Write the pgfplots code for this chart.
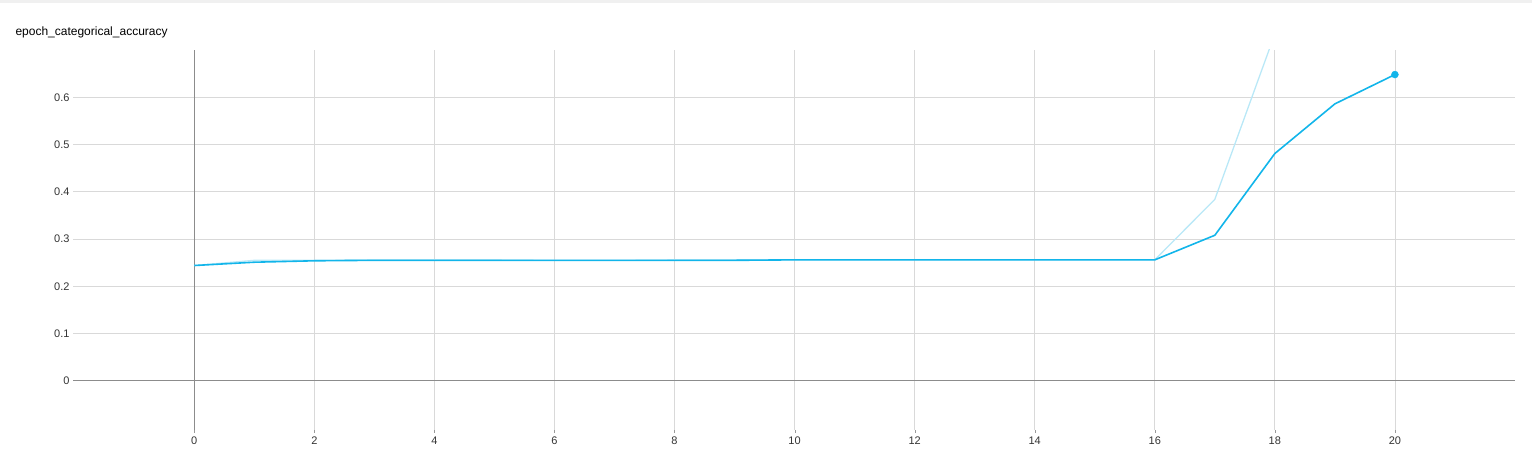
\documentclass[border=0pt]{standalone}
\usepackage{pgfplots}
\pgfplotsset{compat=1.18}
\usepackage{fontspec}
\setmainfont{Liberation Sans}
\begin{document}
\begin{tikzpicture}[x=1pt,y=1pt]
\path (0,0) rectangle (1532,457);
\fill[black!6] (0,454) rectangle (1532,457);
\node[anchor=west,font=\fontsize{12}{14}\selectfont] at (12,425) {epoch\_categorical\_accuracy};
\begin{axis}[
  at={(73pt,27pt)}, anchor=south west, scale only axis,
  width=1442pt, height=380pt,
  xmin=-2.02, xmax=22.0, ymin=-0.104, ymax=0.70,
  xtick={0,2,...,20}, ytick={0,0.1,...,0.6},
  yticklabels={0,0.1,0.2,0.3,0.4,0.5,0.6},
  grid=major, grid style={black!15, line width=0.8pt},
  axis line style={draw=none},
  axis x line*=bottom, axis y line*=left,
  tick style={black!40}, xtick align=outside, ytick style={draw=none},
  major tick length=3pt,
  ticklabel style={font=\fontsize{11}{13}\selectfont, text=black!80},
  /pgf/number format/assume math mode=true,
  clip=true,
]
\addplot[black!45, line width=1.2pt, forget plot] coordinates {(0,-0.104) (0,0.70)};
\addplot[black!45, line width=1.2pt, forget plot] coordinates {(-2.02,0) (22,0)};
\addplot[color={rgb,255:red,185;green,232;blue,247}, line width=1.3pt] coordinates {
(0,0.244) (1,0.255) (2,0.255) (3,0.256) (4,0.256) (5,0.256) (6,0.255) (7,0.255) (8,0.256) (9,0.256) (10,0.256) (11,0.256) (12,0.256) (13,0.256) (14,0.256) (15,0.256) (16,0.256) (17,0.384) (18,0.734) (19,0.740) (20,0.739)};
\addplot[color={rgb,255:red,18;green,181;blue,234}, line width=1.6pt] coordinates {
(0,0.244) (1,0.251) (2,0.254) (3,0.255) (4,0.255) (5,0.255) (6,0.255) (7,0.255) (8,0.255) (9,0.255) (10,0.256) (11,0.256) (12,0.256) (13,0.256) (14,0.256) (15,0.256) (16,0.256) (17,0.308) (18,0.481) (19,0.586) (20,0.648)};
\addplot[only marks, mark=*, mark size=3.5pt, color={rgb,255:red,18;green,181;blue,234}] coordinates {(20,0.648)};
\end{axis}
\end{tikzpicture}
\end{document}
